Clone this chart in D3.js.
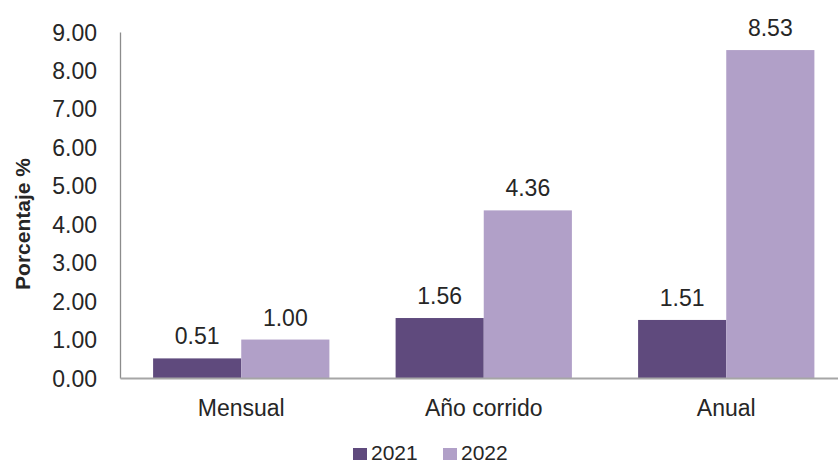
<!DOCTYPE html>
<html><head><meta charset="utf-8">
<script src="https://cdn.jsdelivr.net/npm/d3@7"></script>
<style>body{margin:0;background:#fff}svg{display:block}text{font-family:"Liberation Sans",Arial,sans-serif}</style>
</head><body>
<svg id="c" width="838" height="465"></svg>
<script>
const categories = ["Mensual", "Año corrido", "Anual"];
const seriesNames = ["2021", "2022"];
const values2021 = [0.51, 1.56, 1.51];
const values2022 = [1.00, 4.36, 8.53];
const yTicks = [0,1,2,3,4,5,6,7,8,9];
const colors = ["#5f4a7d", "#b1a0c8"];

const svg = d3.select("#c");
const x0 = d3.scaleBand().domain(categories).range([120, 847.5]).paddingInner(0.273).paddingOuter(0.1365);
const x1 = d3.scaleBand().domain(seriesNames).range([0, x0.bandwidth()]);
const y = d3.scaleLinear().domain([0, 9]).range([378, 32]);
const color = d3.scaleOrdinal().domain(seriesNames).range(colors);

const data = categories.map((c, i) => ({cat: c, vals: [{s: "2021", v: values2021[i]}, {s: "2022", v: values2022[i]}]}));

// y axis
const yAxis = svg.append("g").attr("transform", "translate(120,0)")
  .call(d3.axisLeft(y).tickValues(yTicks).tickFormat(d3.format(".2f")).tickSize(0).tickPadding(23));
yAxis.select(".domain").attr("stroke", "#8c8c8c").attr("stroke-width", 1.3);
yAxis.selectAll("text").attr("font-size", 23).attr("fill", "#262626").attr("dy", "0.35em");

// bars
const g = svg.append("g");
const grp = g.selectAll("g").data(data).join("g").attr("transform", d => `translate(${x0(d.cat)},0)`);
grp.selectAll("rect").data(d => d.vals).join("rect")
  .attr("x", d => x1(d.s)).attr("width", x1.bandwidth())
  .attr("y", d => y(d.v)).attr("height", d => y(0) - y(d.v))
  .attr("fill", d => color(d.s));
grp.selectAll("text").data(d => d.vals).join("text")
  .attr("x", d => x1(d.s) + x1.bandwidth() / 2)
  .attr("y", d => y(d.v) - 14)
  .attr("text-anchor", "middle").attr("font-size", 23).attr("fill", "#262626")
  .text(d => d3.format(".2f")(d.v));

// x axis
const xAxis = svg.append("g").attr("transform", "translate(0,378)")
  .call(d3.axisBottom(x0).tickSize(0).tickPadding(22));
xAxis.select(".domain").attr("stroke", "#a6a6a6").attr("stroke-width", 2);
xAxis.selectAll("text").attr("font-size", 23).attr("fill", "#262626");

// y title
svg.append("text").attr("transform", "translate(30,224) rotate(-90)")
  .attr("text-anchor", "middle").attr("font-size", 21).attr("font-weight", "bold").attr("fill", "#262626")
  .text("Porcentaje %");

// legend
const legX = [353, 443];
const leg = svg.append("g").selectAll("g").data(seriesNames).join("g")
  .attr("transform", (d, i) => `translate(${legX[i]},448)`);
leg.append("rect").attr("width", 14).attr("height", 12).attr("fill", d => color(d));
leg.append("text").attr("x", 18).attr("y", 12).attr("font-size", 21).attr("fill", "#262626").text(d => d);
</script>
</body></html>
